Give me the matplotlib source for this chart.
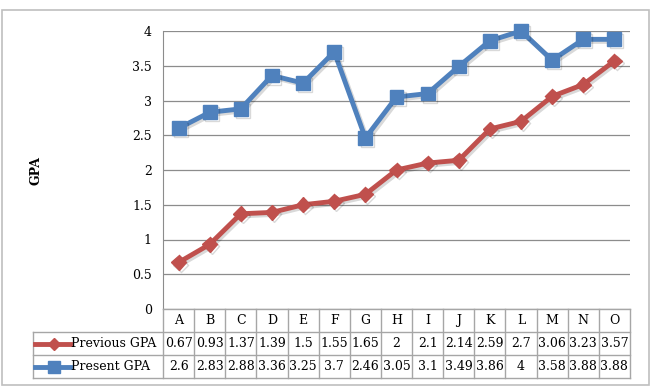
import numpy as np
import matplotlib.pyplot as plt
import matplotlib.patheffects as pe
from matplotlib.patches import Rectangle

categories = ["A", "B", "C", "D", "E", "F", "G", "H", "I", "J", "K", "L", "M", "N", "O"]
previous_gpa = [0.67, 0.93, 1.37, 1.39, 1.5, 1.55, 1.65, 2, 2.1, 2.14, 2.59, 2.7, 3.06, 3.23, 3.57]
present_gpa = [2.6, 2.83, 2.88, 3.36, 3.25, 3.7, 2.46, 3.05, 3.1, 3.49, 3.86, 4, 3.58, 3.88, 3.88]
yticks = [0, 0.5, 1, 1.5, 2, 2.5, 3, 3.5, 4]

red = "#C0504D"
blue = "#4F81BD"
grid_c = "#8C8C8C"
font = "DejaVu Serif"
fs = 9

W, H = 656, 387
fig = plt.figure(figsize=(W / 100, H / 100), dpi=100)
fig.patches.append(Rectangle((2 / W, 2 / H), 647 / W, 375 / H, transform=fig.transFigure,
                             fill=False, edgecolor="#BFBFBF", lw=1.2))

x = np.arange(len(categories))
left, right, top, bottom = 163, 630, 31, 309
ax = fig.add_axes([left / W, 1 - bottom / H, (right - left) / W, (bottom - top) / H])
ax.set_xlim(-0.5, len(categories) - 0.5)
ax.set_ylim(0, 4)
ax.set_yticks(yticks)
ax.set_yticklabels([f"{v:g}" for v in yticks], fontfamily=font, fontsize=fs)
ax.set_xticks([])
for s in ["top", "right", "bottom"]:
    ax.spines[s].set_visible(False)
ax.spines["left"].set_color(grid_c)
ax.tick_params(axis="y", length=0, pad=8)
ax.yaxis.grid(True, color=grid_c, lw=0.9)
ax.set_axisbelow(True)

shadow = [pe.SimpleLineShadow(offset=(1.5, -1.5), alpha=0.15), pe.Normal()]
ax.plot(x, previous_gpa, color=red, lw=3.5, marker="D", ms=7.5, path_effects=shadow,
        solid_joinstyle="miter", clip_on=False)
ax.plot(x, present_gpa, color=blue, lw=3.5, marker="s", ms=10, path_effects=shadow,
        solid_joinstyle="miter", clip_on=False)

fig.text(36 / W, 1 - 170 / H, "GPA", rotation=90, ha="center", va="center",
         fontfamily=font, fontweight="bold", fontsize=fs)

# data table under the plot
tl, tb = 33, 378
colw = (right - left) / len(categories)
lab_w = (left - tl) / colw
tax = fig.add_axes([tl / W, 1 - tb / H, (right - tl) / W, (tb - bottom) / H])
tax.set_xlim(-0.5 - lab_w, len(categories) - 0.5)
tax.set_ylim(3, 0)
tax.axis("off")
lc = "#A6A6A6"
n = len(categories)
tax.plot([-0.5, n - 0.5], [0, 0], color=lc, lw=1, clip_on=False)
for r in [1, 2, 3]:
    tax.plot([-0.5 - lab_w, n - 0.5], [r, r], color=lc, lw=1, clip_on=False)
for i in range(n + 1):
    tax.plot([i - 0.5, i - 0.5], [0, 3], color=lc, lw=1, clip_on=False)
tax.plot([-0.5 - lab_w] * 2, [1, 3], color=lc, lw=1, clip_on=False)

for i, c in enumerate(categories):
    tax.text(i, 0.5, c, ha="center", va="center", fontfamily=font, fontsize=fs)
    tax.text(i, 1.5, f"{previous_gpa[i]:g}", ha="center", va="center", fontfamily=font, fontsize=fs)
    tax.text(i, 2.5, f"{present_gpa[i]:g}", ha="center", va="center", fontfamily=font, fontsize=fs)

kx0 = -0.5 - lab_w + 0.08
tax.plot([kx0, kx0 + 1.1], [1.5, 1.5], color=red, lw=3.5, clip_on=False)
tax.plot([kx0 + 0.6], [1.5], color=red, marker="D", ms=6, clip_on=False)
tax.plot([kx0, kx0 + 1.1], [2.5, 2.5], color=blue, lw=3.5, clip_on=False)
tax.plot([kx0 + 0.6], [2.5], color=blue, marker="s", ms=8, clip_on=False)
tax.text(kx0 + 1.15, 1.5, "Previous GPA", ha="left", va="center", fontfamily=font, fontsize=fs)
tax.text(kx0 + 1.15, 2.5, "Present GPA", ha="left", va="center", fontfamily=font, fontsize=fs)

fig.savefig("out.png", dpi=100)
